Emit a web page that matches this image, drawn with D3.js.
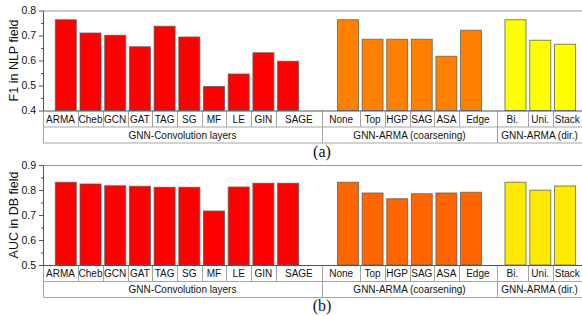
<!DOCTYPE html>
<html>
<head>
<meta charset="utf-8">
<script src="https://cdn.jsdelivr.net/npm/d3@7"></script>
<style>
  html, body { margin: 0; padding: 0; background: #fff; }
  svg { display: block; }
</style>
</head>
<body>
<svg id="chart" width="582" height="316"></svg>
<script>
// ---------- data ----------
const convLayers = ["ARMA","Cheb","GCN","GAT","TAG","SG","MF","LE","GIN","SAGE"];
const coarsening = ["None","Top","HGP","SAG","ASA","Edge"];
const direction  = ["Bi.","Uni.","Stack"];
const groupLabels = ["GNN-Convolution layers","GNN-ARMA (coarsening)","GNN-ARMA (dir.)"];

const f1Conv   = [0.763,0.710,0.701,0.655,0.737,0.694,0.496,0.546,0.631,0.597];
const f1Coarse = [0.763,0.685,0.685,0.685,0.617,0.721];
const f1Dir    = [0.763,0.681,0.665];

const aucConv   = [0.831,0.824,0.817,0.815,0.811,0.811,0.716,0.812,0.827,0.827];
const aucCoarse = [0.831,0.788,0.765,0.785,0.788,0.791];
const aucDir    = [0.831,0.799,0.816];

const yTicksF1  = [0.4,0.5,0.6,0.7,0.8];
const yTicksAUC = [0.5,0.6,0.7,0.8,0.9];
const yLabels = ["F1 in NLP field","AUC in DB field"];
const captions = ["(a)","(b)"];

// ---------- layout ----------
const svg = d3.select("#chart");
const axisX = 43, rightX = 582;
const plotH = 100, row1 = 16.5, row2 = 16;
const groupCells = [[43,322],[322,497],[497,582]];
const groupBandRanges = [[53.45,300.45],[335.7,483.3],[503.1,577.4]];
const groupCats = [convLayers, coarsening, direction];

const panels = [
  { top: 10.5, domain: [0.4,0.8], ticks: yTicksF1, label: yLabels[0], caption: captions[0], capY: 156.5,
    values: [f1Conv, f1Coarse, f1Dir], colors: ["#ff0000","#ff8000","#ffff00"] },
  { top: 165, domain: [0.5,0.9], ticks: yTicksAUC, label: yLabels[1], caption: captions[1], capY: 311,
    values: [aucConv, aucCoarse, aucDir], colors: ["#ff0000","#ff6600","#ffeb00"] }
];

const bands = groupCats.map((cats,i) =>
  d3.scaleBand().domain(cats).range(groupBandRanges[i]).paddingInner(0.15).paddingOuter(0.075));

panels.forEach(p => {
  const g = svg.append("g");
  const bottom = p.top + plotH;
  const y = d3.scaleLinear().domain(p.domain).range([bottom, p.top]);

  // top frame line
  g.append("line").attr("x1",axisX).attr("x2",rightX).attr("y1",p.top+0.5).attr("y2",p.top+0.5)
    .attr("stroke","#9a9a9a").attr("stroke-width",1);

  // bars
  groupCats.forEach((cats,gi) => {
    const xb = bands[gi];
    g.append("g").selectAll("rect").data(cats.map((c,i)=>({c, v:p.values[gi][i]})))
      .join("rect")
      .attr("x", d => xb(d.c))
      .attr("width", xb.bandwidth())
      .attr("y", d => y(d.v))
      .attr("height", d => bottom - y(d.v))
      .attr("fill", p.colors[gi])
      .attr("stroke","#5a5a5a").attr("stroke-opacity",0.75).attr("stroke-width",1);
  });

  // minor ticks
  const minor = p.ticks.slice(0,-1).map(t => +(t+0.05).toFixed(2));
  g.append("g").attr("transform",`translate(${axisX},0)`)
    .call(d3.axisLeft(y).tickValues(minor).tickSize(2).tickFormat(""))
    .call(s => s.select(".domain").remove())
    .call(s => s.selectAll("line").attr("stroke","#555"));

  // y axis
  g.append("g").attr("transform",`translate(${axisX},0)`)
    .call(d3.axisLeft(y).tickValues(p.ticks).tickSize(4).tickSizeOuter(0).tickPadding(3)
      .tickFormat(d3.format(".1f")))
    .call(s => s.select(".domain").attr("stroke","#555"))
    .call(s => s.selectAll("line").attr("stroke","#555"))
    .call(s => s.selectAll("text").attr("font-family","Liberation Sans, Arial, sans-serif")
      .attr("font-size","10.5px").attr("fill","#111"));

  // y label
  g.append("text").attr("transform",`translate(17.5,${p.top + plotH/2}) rotate(-90)`)
    .attr("text-anchor","middle").attr("font-family","Liberation Sans, Arial, sans-serif")
    .attr("font-size","12.5px").attr("fill","#111").text(p.label);

  // label table
  const r1 = bottom + row1, r2 = r1 + row2;
  const gridC = "#a5a5a5";
  g.append("line").attr("x1",axisX).attr("x2",rightX).attr("y1",r1).attr("y2",r1).attr("stroke",gridC);
  g.append("line").attr("x1",axisX).attr("x2",rightX).attr("y1",r2).attr("y2",r2).attr("stroke",gridC);
  g.append("line").attr("x1",axisX+0.5).attr("x2",axisX+0.5).attr("y1",bottom).attr("y2",r2).attr("stroke",gridC);

  groupCats.forEach((cats,gi) => {
    const xb = bands[gi];
    const [c0,c1] = groupCells[gi];
    if (gi > 0) {
      g.append("line").attr("x1",c0+0.5).attr("x2",c0+0.5).attr("y1",bottom).attr("y2",r2).attr("stroke",gridC);
    }
    const step = xb.step();
    const [b0] = xb.range();
    cats.forEach((c,i) => {
      const left = i === 0 ? c0 : b0 + step*i;
      const right = i === cats.length-1 ? c1 : b0 + step*(i+1);
      if (i > 0) {
        g.append("line").attr("x1",Math.round(left)+0.5).attr("x2",Math.round(left)+0.5)
          .attr("y1",bottom).attr("y2",r1).attr("stroke",gridC);
      }
      g.append("text").attr("x",(left+right)/2).attr("y",bottom+12.2)
        .attr("text-anchor","middle").attr("font-family","Liberation Sans, Arial, sans-serif")
        .attr("font-size","10px").attr("fill","#111").text(c);
    });
    g.append("text").attr("x",(c0+c1)/2).attr("y",r1+11.5)
      .attr("text-anchor","middle").attr("font-family","Liberation Sans, Arial, sans-serif")
      .attr("font-size","10px").attr("fill","#111").text(groupLabels[gi]);
  });

  // bottom axis line
  g.append("line").attr("x1",axisX).attr("x2",rightX).attr("y1",bottom+0.5).attr("y2",bottom+0.5)
    .attr("stroke","#555");

  // caption
  g.append("text").attr("x",322).attr("y",p.capY).attr("text-anchor","middle")
    .attr("font-family","Liberation Serif, Times New Roman, serif").attr("font-size","16px")
    .attr("fill","#111").text(p.caption);
});
</script>
</body>
</html>
